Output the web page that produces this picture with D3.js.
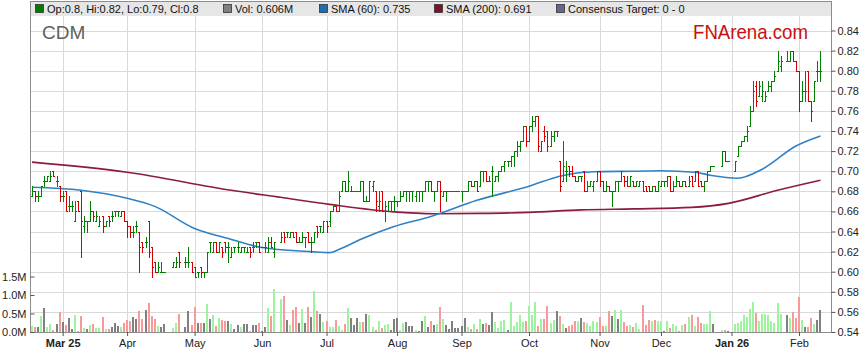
<!DOCTYPE html>
<html>
<head>
<meta charset="utf-8">
<title>CDM</title>
<script src="https://d3js.org/d3.v7.min.js"></script>
<style>
  body { margin: 0; background: #fff; }
  svg text { font-family: "Liberation Sans", Arial, sans-serif; }
</style>
</head>
<body>
<script>
// daily bars, one slot per weekday from 17 Feb 2025; null = exchange closed. prices in cents
const opens = [
  67.5, 68, 67.5, 67.5, 69, 69, 69, 70, 69, 68.5,
  67.5, 68, 66.5, 66.5, 65, 67, 68, 64.5, 65, 65,
  66, 65, 64.5, 65.5, 64.5, 65.5, 65.5, 66, 66, 65.5,
  66, 65, 64.5, 64, 64.5, 64, 63, 63, 65, 62.5,
  61, 60, 60, 60, null, null, 60.5, 60.5, 62, null,
  61, 61, 61, 60.5, 60, 60.5, 60, 60, 63, 62,
  63, 62, 62.5, 63, 62.5, 61.5, 62.5, 62.5, 62, 62.5,
  62, 62.5, 62.5, 63, 63, 62.5, 62.5, 62, 63, 62,
  null, 63, 64, 64, 63.5, 64, 64, 63, 63, 63.5,
  64, 63, 63, 64.5, 64.5, 64, 65, 65, 66, 66.5,
  66, 68, 69, 68, 68, 68, 68, 68, 69, 67,
  67, 68.5, 68, 66.5, 68, 66, 66, 67, 67, 67,
  67, 67.5, 68, 68, 68, 67.5, 68, 68, 68, 69,
  69, 68, 68, 69, 67.5, 68, 68, 68, 68, 68,
  68, 68, 68, 69, 68.5, 69, 68.5, 70, 70, 69,
  70, 69, 69.5, 70, 70.5, 71, 71, 71.5, 72, 72.5,
  73, 74.5, 73, 74.5, 75, 75.5, 72, 74, 74, 72.5,
  73.5, 74, 71, 69, 70, 70.5, 70, 69.5, 69, 69.5,
  70, 68, 68.5, 68.5, 69, 70, 69, 68, 68.5, 68,
  68, 69, 69, 69.5, 69, 68.5, 69, 68.5, 68.5, 69,
  68.5, 68.5, 68, 68.5, 68, 68.5, 69, 69, 69.5, 68,
  68.5, 69, 68.5, 69, 68.5, 69.5, 69, 70, 69, 68.5,
  69, 70, 70.5, null, null, 70.5, 72, 71, null, 70,
  71.5, 72.5, 73, 73.5, 74.5, 76, 78.5, 77.5, 77.5, 77,
  78, 78.5, 79, 80, 80.5, null, 81, 81, 82, 81,
  80, 77, 78, 80, 77, 77, 80, 80
];
const highs = [
  68.5, 68, 68, 68.5, 69.5, 69.5, 70, 70, 69.5, 68.5,
  68, 68, 67.5, 67, 67, 67, 68, 65.5, 65, 67,
  66, 66, 65.5, 65.5, 65, 65.5, 66, 66, 66, 66,
  66, 65, 64.5, 64.5, 65, 64, 63, 63.5, 65, 62.5,
  61, 61, 61, 60, null, null, 61, 61.5, 62, null,
  61.5, 62.5, 61, 60.5, 60, 60.5, 60, 62, 63, 63,
  63, 63, 62.5, 63, 63, 62.5, 62.5, 63, 62.5, 62.5,
  62.5, 62.5, 63, 63, 63, 62.5, 63, 63.5, 63.5, 63,
  null, 64, 64, 64, 64, 64, 64, 63.5, 64, 63.5,
  64, 63.5, 64, 64.5, 64.5, 65, 65, 66, 66.5, 66.5,
  68, 69, 69, 70, 68.5, 68, 68, 69, 69, 67.5,
  69, 69, 68, 68, 68, 67, 67, 67, 67.5, 67,
  68, 68, 68, 68, 68, 68, 68, 68, 69, 69,
  69, 68, 69, 69, 68, 68, 68, 68, 68, 68,
  68, 68, 69, 69, 69, 69, 70, 70, 70, 69.5,
  70.5, 69.5, 70, 70.5, 71, 71, 71.5, 72, 73, 73,
  74.5, 74.5, 74.5, 75.5, 75.5, 75.5, 73, 74.5, 74, 74,
  74, 74, 71, 73, 71, 70.5, 70.5, 69.5, 69.5, 69.5,
  70, 69, 69, 69, 70, 70, 69, 69, 68.5, 68,
  69, 69, 70, 69.5, 69.5, 69.5, 69, 69, 69, 69,
  68.5, 68.5, 68.5, 68.5, 69, 69, 69, 69.5, 69.5, 69,
  69.5, 69, 69, 69, 69.5, 69.5, 70, 70, 69, 69,
  70, 70.5, 70.5, null, null, 72, 72, 71, null, 71,
  72.5, 73, 73.5, 74.5, 76.5, 79, 79, 79, 79, 78,
  79, 79, 80, 82, 81.5, null, 82, 82, 82, 81,
  80, 79, 80, 80, 77, 79, 81, 82
];
const lows = [
  67.5, 67, 67, 67.5, 68.5, 69, 69, 69.5, 68.5, 67,
  67, 66, 66, 66, 65, 66, 61.5, 64, 64, 65,
  65, 65, 64.5, 64, 64.5, 64.5, 65, 65.5, 65.5, 65.5,
  65, 63.5, 63.5, 63.5, 64, 60, 62, 62.5, 61.5, 59.5,
  60, 60, 60, 60, null, null, 60.5, 60.5, 60.5, null,
  60.5, 60.5, 60, 59.5, 59.5, 59.5, 59.5, 60, 62, 62,
  62, 62, 61.5, 62, 61, 61.5, 62, 62, 62, 62,
  62, 61.5, 62, 62.5, 62, 62.5, 62, 62, 62.5, 61.5,
  null, 63, 63, 63.5, 63.5, 63.5, 63, 63, 63, 62.5,
  63, 62, 63, 63.5, 64, 64, 64, 64.5, 66, 66,
  66, 68, 68, 68, 68, 68, 68, 68, 67, 67,
  67, 68, 66, 66, 66, 65, 66, 66, 66, 66.5,
  67, 67.5, 67, 67, 67, 67, 67, 67, 68, 68,
  68, 67, 68, 66, 67.5, 67, 68, 68, 68, 68,
  67, 68, 68, 68.5, 68.5, 68, 68.5, 69, 69, 69,
  67.5, 69, 69, 70, 70, 70.5, 70.5, 70.5, 71.5, 72,
  73, 72.5, 73, 74, 74.5, 72, 72, 73, 72, 72.5,
  73, 73.5, 68, 69, 69, 69.5, 69.5, 69, 69, 69,
  68, 68, 68.5, 68, 69, 68.5, 68, 68, 68, 66.5,
  68, 68, 69, 68.5, 68.5, 68.5, 68.5, 68.5, 68.5, 68,
  68, 68, 68, 68, 68, 68.5, 68.5, 68.5, 68, 68,
  68.5, 68.5, 68.5, 68.5, 68.5, 68.5, 69, 68.5, 68.5, 68,
  69, 70, 70.5, null, null, 70.5, 71, 71, null, 70,
  71.5, 72.5, 73, 73, 74.5, 76, 76.5, 77.5, 77, 77,
  78, 78, 79, 80, 80, null, 81, 81, 81, 80,
  76, 77, 77, 77, 75, 77, 79, 79
];
const closes = [
  68, 67.5, 67.5, 68.5, 69, 69.5, 69.5, 69.5, 69, 67.5,
  67.5, 66, 66.5, 66.5, 66, 66, 65, 65, 65, 66,
  65.5, 65.5, 65, 64.5, 65, 65, 65.5, 66, 66, 66,
  65, 64.5, 64, 64, 64.5, 62.5, 62.5, 63, 62, 60.5,
  60, 60.5, 60, 60, null, null, 61, 61, 61, null,
  61, 61, 60, 59.5, 60, 60, 60, 62, 63, 63,
  62, 63, 62, 62.5, 62.5, 62, 62.5, 62.5, 62.5, 62.5,
  62, 62, 62.5, 63, 62, 62.5, 62.5, 63, 62.5, 63,
  null, 63.5, 63.5, 64, 64, 63.5, 63, 63, 63.5, 63.5,
  63, 63, 64, 64, 64.5, 65, 64.5, 66, 66.5, 66,
  67.5, 69, 68, 69, 68, 68, 68, 69, 67, 67,
  69, 69, 67, 67, 66, 66.5, 67, 67, 67, 67,
  67.5, 68, 68, 68, 68, 68, 68, 68, 69, 69,
  68, 68, 69, 68, 68, 68, 68, 68, 68, 68,
  68, 68, 69, 68.5, 69, 68, 70, 70, 69, 69,
  70, 69.5, 70, 70.5, 71, 71, 71.5, 72, 72.5, 73,
  74.5, 73, 74.5, 75, 75.5, 72.5, 73, 73.5, 72.5, 73.5,
  74, 74, 68.5, 70.5, 70, 70, 69.5, 69, 69.5, 69.5,
  68, 68.5, 69, 69, 70, 69, 68, 68.5, 68, 68,
  69, 69, 70, 69, 68.5, 69.5, 68.5, 69, 69, 68,
  68, 68, 68.5, 68, 69, 69, 69, 69.5, 68, 68.5,
  69, 68.5, 69, 68.5, 69, 68.5, 70, 68.5, 68.5, 69,
  70, 70.5, 70.5, null, null, 72, 71, 71, null, 71,
  72.5, 73, 73.5, 74, 76, 78, 77, 78.5, 78, 77.5,
  78.5, 79, 79.5, 81, 81, null, 81, 82, 81, 80,
  77, 78, 78, 77, 76, 79, 80, 80
];
// volume in millions of shares
const volumes = [
  .16, .13, .13, .43, .65, .13, .22, .05, .22, .54,
  .27, .19, .38, .08, .46, .03, .43, .11, .08, .19,
  .22, .11, .11, .41, .08, .08, .14, .24, .16, .14,
  .24, .32, .30, .41, .35, .57, .35, .59, .78, .43,
  .35, .16, .14, .22, null, null, .11, .24, .49, null,
  .14, .57, .19, .68, .24, .24, .24, .75, .35, .46,
  .16, .37, .32, .31, .31, .22, .08, .19, .14, .22,
  .22, .02, .19, .19, .24, .03, .14, .65, .43, 1.17,
  null, .89, .97, .32, .19, .59, .68, .24, .62, .24,
  .68, .41, 1.1, .57, .49, .27, .30, .14, .14, .32,
  .16, .05, .22, .65, .38, .19, .38, .27, .27, .49,
  .46, .14, .05, .30, .11, .19, .22, .05, .35, .38,
  .05, .24, .27, .16, .16, .05, .03, .30, .43, .14,
  .30, .19, .22, .68, .35, .19, .08, .30, .11, .11,
  .16, .38, .14, .08, .22, .08, .35, .22, .24, .19,
  .54, .27, .11, .30, .32, .05, .81, .16, .27, .46,
  .27, .30, .70, .46, .81, .16, .35, .35, .70, .24,
  .32, .57, .43, .22, .11, .16, .19, .30, .30, .38,
  .27, .24, .16, .30, .27, .41, .16, .16, .57, .43,
  .59, .35, .59, .27, .16, .19, .14, .24, .08, .73,
  .19, .32, .30, .32, .30, .30, .03, .30, .11, .22,
  .16, .03, .19, .22, .41, .46, .16, .41, .24, .22,
  .22, .57, .22, null, null, .05, .05, .02, null, .22,
  .24, .30, .46, .41, .62, .81, .51, .30, .49, .49,
  .46, .30, .24, .78, .49, null, .46, .38, .54, .38,
  .95, .32, .14, .14, .38, .22, .32, .606
];

// moving averages at these day slots (cents)
const sma60Days = [0, 16, 31, 40, 53, 64, 75, 91, 97, 100, 107, 118, 130, 145, 162, 172, 183, 196, 205, 216, 221, 230, 238, 249, 257];
const sma60 = [68.4, 68.1, 67.3, 66.5, 64.3, 63.3, 62.4, 62.0, 61.9, 62.2, 63.2, 64.5, 65.5, 67.1, 68.5, 69.5, 69.95, 70.0, 70.05, 69.9, 69.6, 69.3, 70.2, 72.5, 73.5];
const sma200Days = [0, 31, 65, 81, 97, 118, 131, 146, 162, 179, 196, 215, 227, 243, 257];
const sma200 = [70.9, 69.9, 68.1, 67.4, 66.7, 65.95, 65.77, 65.8, 65.9, 66.15, 66.25, 66.4, 66.8, 68.1, 69.1];

const tickLabels = ["Mar 25", "Apr", "May", "Jun", "Jul", "Aug", "Sep", "Oct", "Nov", "Dec", "Jan 26", "Feb"];
const priceTicks = [54, 56, 58, 60, 62, 64, 66, 68, 70, 72, 74, 76, 78, 80, 82, 84];
const volTicks = [0, 0.5, 1, 1.5];

const legendItems = [
  { label: "Op:0.8, Hi:0.82, Lo:0.79, Cl:0.8", color: "#007a00", x: 35 },
  { label: "Vol: 0.606M", color: "#808080", x: 223 },
  { label: "SMA (60): 0.735", color: "#1f6cb0", x: 319 },
  { label: "SMA (200): 0.691", color: "#7d0f30", x: 434 },
  { label: "Consensus Target: 0 - 0", color: "#66668a", x: 556 }
];

// weekday slots
const dates = [];
for (let d = new Date(2025, 1, 17); dates.length < closes.length; d = d3.timeDay.offset(d, 1)) {
  if (d.getDay() !== 0 && d.getDay() !== 6) dates.push(d);
}
const monthStarts = [];
dates.forEach((d, i) => {
  if (i > 0 && d.getMonth() !== dates[i - 1].getMonth()) monthStarts.push(i);
});

const svg = d3.select("body").append("svg")
  .attr("width", 859)
  .attr("height", 363);

const plotLeft = 30, plotRight = 832, plotTop = 1, plotBottom = 332;

const x = d3.scaleLinear().domain([-0.65, 260.75]).range([plotLeft, plotRight]);
const y = d3.scaleLinear().domain([54, 84]).range([plotBottom, 30.5]);
const yVol = d3.scaleLinear().domain([0, 1.5]).range([plotBottom, 276.5]);

const px = v => Math.round(v) + 0.5;

// grid
const grid = svg.append("g").attr("shape-rendering", "crispEdges");
grid.selectAll(".hg").data(priceTicks).join("line")
  .attr("x1", plotLeft).attr("x2", plotRight)
  .attr("y1", d => px(y(d))).attr("y2", d => px(y(d)))
  .attr("stroke", "#d9d9d9");
grid.selectAll(".vg").data(monthStarts).join("line")
  .attr("x1", d => px(x(d))).attr("x2", d => px(x(d)))
  .attr("y1", 16).attr("y2", plotBottom)
  .attr("stroke", "#d9d9d9");

// legend band
svg.append("rect").attr("x", plotLeft).attr("y", plotTop).attr("width", plotRight - plotLeft).attr("height", 15)
  .attr("fill", "#e6e6e6");

const legend = svg.append("g");
legendItems.forEach(it => {
  legend.append("rect").attr("x", it.x + 0.5).attr("y", 4.5).attr("width", 8).attr("height", 8)
    .attr("fill", it.color).attr("stroke", "#333").attr("stroke-width", 0.8);
  legend.append("text").attr("x", it.x + 12).attr("y", 13)
    .attr("font-size", 11).attr("fill", "#111").text(it.label);
});

svg.append("text").attr("x", 42).attr("y", 39).attr("font-size", 19).attr("fill", "#5f5f5f").text("CDM");
svg.append("text").attr("x", 693).attr("y", 39).attr("font-size", 21).attr("fill", "#c81010")
  .attr("textLength", 115).attr("lengthAdjust", "spacingAndGlyphs").text("FNArena.com");

// volume
const days = d3.range(closes.length).filter(i => closes[i] != null);
const volColor = i => opens[i] < closes[i] ? "#9cf59c" : opens[i] > closes[i] ? "#f99a9a" : "#808080";
svg.append("g").attr("shape-rendering", "crispEdges")
  .selectAll("rect").data(days.filter(i => volumes[i] != null)).join("rect")
  .attr("x", i => Math.round(x(i)) - 1)
  .attr("width", 2)
  .attr("y", i => Math.round(yVol(volumes[i])))
  .attr("height", i => plotBottom - Math.round(yVol(volumes[i])))
  .attr("fill", volColor);

// moving averages
const smaLine = d3.line().curve(d3.curveMonotoneX);
svg.append("path")
  .attr("d", smaLine(sma200Days.map((d, k) => [x(d), y(sma200[k])])))
  .attr("fill", "none").attr("stroke", "#8a1c40").attr("stroke-width", 1.6);
svg.append("path")
  .attr("d", smaLine(sma60Days.map((d, k) => [x(d), y(sma60[k])])))
  .attr("fill", "none").attr("stroke", "#2f80c4").attr("stroke-width", 1.6);

// OHLC bars
const bars = svg.append("g").attr("shape-rendering", "crispEdges").attr("stroke-width", 1);
days.forEach(i => {
  const c = px(x(i));
  const col = closes[i] < opens[i] ? "#d40000" : "#008000";
  bars.append("line").attr("x1", c).attr("x2", c)
    .attr("y1", px(y(highs[i])) - 0.5).attr("y2", px(y(lows[i])) + 0.5).attr("stroke", col);
  bars.append("line").attr("x1", c - 1.5).attr("x2", c)
    .attr("y1", px(y(opens[i]))).attr("y2", px(y(opens[i]))).attr("stroke", col);
  bars.append("line").attr("x1", c).attr("x2", c + 1.5)
    .attr("y1", px(y(closes[i]))).attr("y2", px(y(closes[i]))).attr("stroke", col);
});

// frame and axes
const frame = svg.append("g").attr("shape-rendering", "crispEdges");
frame.append("rect").attr("x", plotLeft + 0.5).attr("y", plotTop + 0.5)
  .attr("width", plotRight - plotLeft - 1).attr("height", plotBottom - plotTop - 0.5)
  .attr("fill", "none").attr("stroke", "#8c8c8c");

const yAxis = d3.axisRight(y).tickValues(priceTicks).tickSize(4).tickPadding(2)
  .tickFormat(d => (d / 100).toFixed(2));
svg.append("g").attr("transform", `translate(${plotRight - 0.5},0)`).call(yAxis)
  .call(g => g.select(".domain").remove())
  .call(g => g.selectAll("line").attr("stroke", "#555"))
  .call(g => g.selectAll("text").attr("font-size", 11).attr("fill", "#222")
    .attr("font-family", "Liberation Sans, Arial, sans-serif"));

const volAxis = d3.axisLeft(yVol).tickValues(volTicks).tickSize(-4).tickPadding(3)
  .tickFormat(d => d.toFixed(1) + "M");
svg.append("g").attr("transform", `translate(${plotLeft + 0.5},0)`).call(volAxis)
  .call(g => g.select(".domain").remove())
  .call(g => g.selectAll("line").attr("stroke", "#555"))
  .call(g => g.selectAll("text").attr("font-size", 11).attr("fill", "#222").attr("x", -4)
    .attr("font-family", "Liberation Sans, Arial, sans-serif"));

const xAxis = d3.axisBottom(x).tickValues(monthStarts).tickSize(4).tickPadding(3)
  .tickFormat((d, k) => tickLabels[k]);
svg.append("g").attr("transform", `translate(0,${plotBottom})`).call(xAxis)
  .call(g => g.select(".domain").remove())
  .call(g => g.selectAll("line").attr("stroke", "#555"))
  .call(g => g.selectAll("text").attr("font-size", 11).attr("fill", "#222")
    .attr("font-family", "Liberation Sans, Arial, sans-serif")
    .attr("font-weight", (d, k) => /\d/.test(tickLabels[k]) ? "bold" : "normal"));
</script>
</body>
</html>
